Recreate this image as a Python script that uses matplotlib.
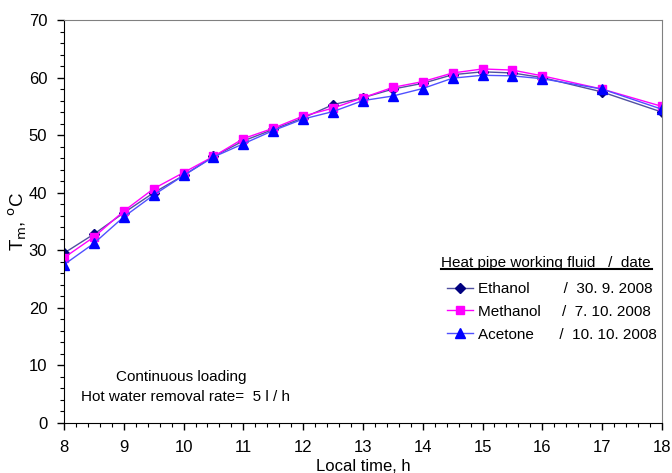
import numpy as np
import matplotlib
matplotlib.use("Agg")
import matplotlib.pyplot as plt
from matplotlib.ticker import MultipleLocator
from matplotlib.lines import Line2D

plt.rcParams["font.family"] = ["Liberation Sans", "DejaVu Sans"]

# Local time, h
hours = [8, 8.5, 9, 9.5, 10, 10.5, 11, 11.5, 12, 12.5, 13, 13.5, 14, 14.5, 15, 15.5, 16, 17, 18]

# Tm, degC
ethanol = [29.5, 32.8, 36.5, 40.0, 43.0, 46.3, 49.0, 51.0, 53.0, 55.3, 56.5, 58.0, 59.0,
           60.5, 61.0, 60.8, 60.0, 57.5, 54.0]
methanol = [28.7, 32.3, 36.8, 40.7, 43.5, 46.3, 49.4, 51.2, 53.3, 54.7, 56.5, 58.3, 59.3,
            60.8, 61.5, 61.3, 60.3, 58.0, 55.0]
acetone = [27.5, 31.2, 35.8, 39.6, 43.0, 46.2, 48.5, 50.8, 52.8, 54.1, 56.0, 56.8, 58.1,
           59.9, 60.4, 60.3, 59.8, 58.0, 54.5]

labels = ["Ethanol        /  30. 9. 2008",
          "Methanol     /  7. 10. 2008",
          "Acetone      /  10. 10. 2008"]

fig = plt.figure(figsize=(6.72, 4.73), dpi=100)
ax = fig.add_axes([0.0952, 0.1057, 0.8898, 0.852])

ax.plot(hours, ethanol, color="#5050a0", lw=1.0, marker="D", ms=5,
        mfc="#000080", mec="#000080", label=labels[0])
ax.plot(hours, methanol, color="#ff00ff", lw=1.0, marker="s", ms=6,
        mfc="#ff00ff", mec="#ff00ff", label=labels[1])
ax.plot(hours, acetone, color="#5050ff", lw=1.0, marker="^", ms=7,
        mfc="#0000ff", mec="#0000ff", label=labels[2])

ax.set_xlim(8, 18)
ax.set_ylim(0, 70)
ax.xaxis.set_major_locator(MultipleLocator(1))
ax.xaxis.set_minor_locator(MultipleLocator(0.2))
ax.yaxis.set_major_locator(MultipleLocator(10))
ax.yaxis.set_minor_locator(MultipleLocator(2))
ax.tick_params(which="major", direction="out", length=5, width=1, labelsize=12, pad=7)
ax.tick_params(which="minor", direction="out", length=3, width=0.8)

for s in ["top", "right"]:
    ax.spines[s].set_color("#808080")
for s in ["left", "bottom"]:
    ax.spines[s].set_color("black")

ax.set_xlabel("Local time, h", fontsize=12, labelpad=3)
ax.set_ylabel("T$_\\mathrm{m}$, $^\\mathrm{o}$C", fontsize=13.5, labelpad=0)

leg = ax.legend(loc="upper left", bbox_to_anchor=(0.64, 0.35), frameon=False,
                fontsize=11, handlelength=1.7, handletextpad=0.33, labelspacing=0.58,
                borderaxespad=0, borderpad=0)

ax.text(0.630, 0.397, "Heat pipe working fluid   /  date", transform=ax.transAxes,
        fontsize=11, ha="left", va="center")
ax.add_line(Line2D([0.630, 0.983], [0.381, 0.381], transform=ax.transAxes,
                   color="black", lw=1.5, clip_on=False))

ax.text(0.196, 0.114, "Continuous loading", transform=ax.transAxes,
        fontsize=11, ha="center", va="center")
ax.text(0.204, 0.065, "Hot water removal rate=  5 l / h", transform=ax.transAxes,
        fontsize=11, ha="center", va="center")

fig.savefig("out.png", dpi=100)
